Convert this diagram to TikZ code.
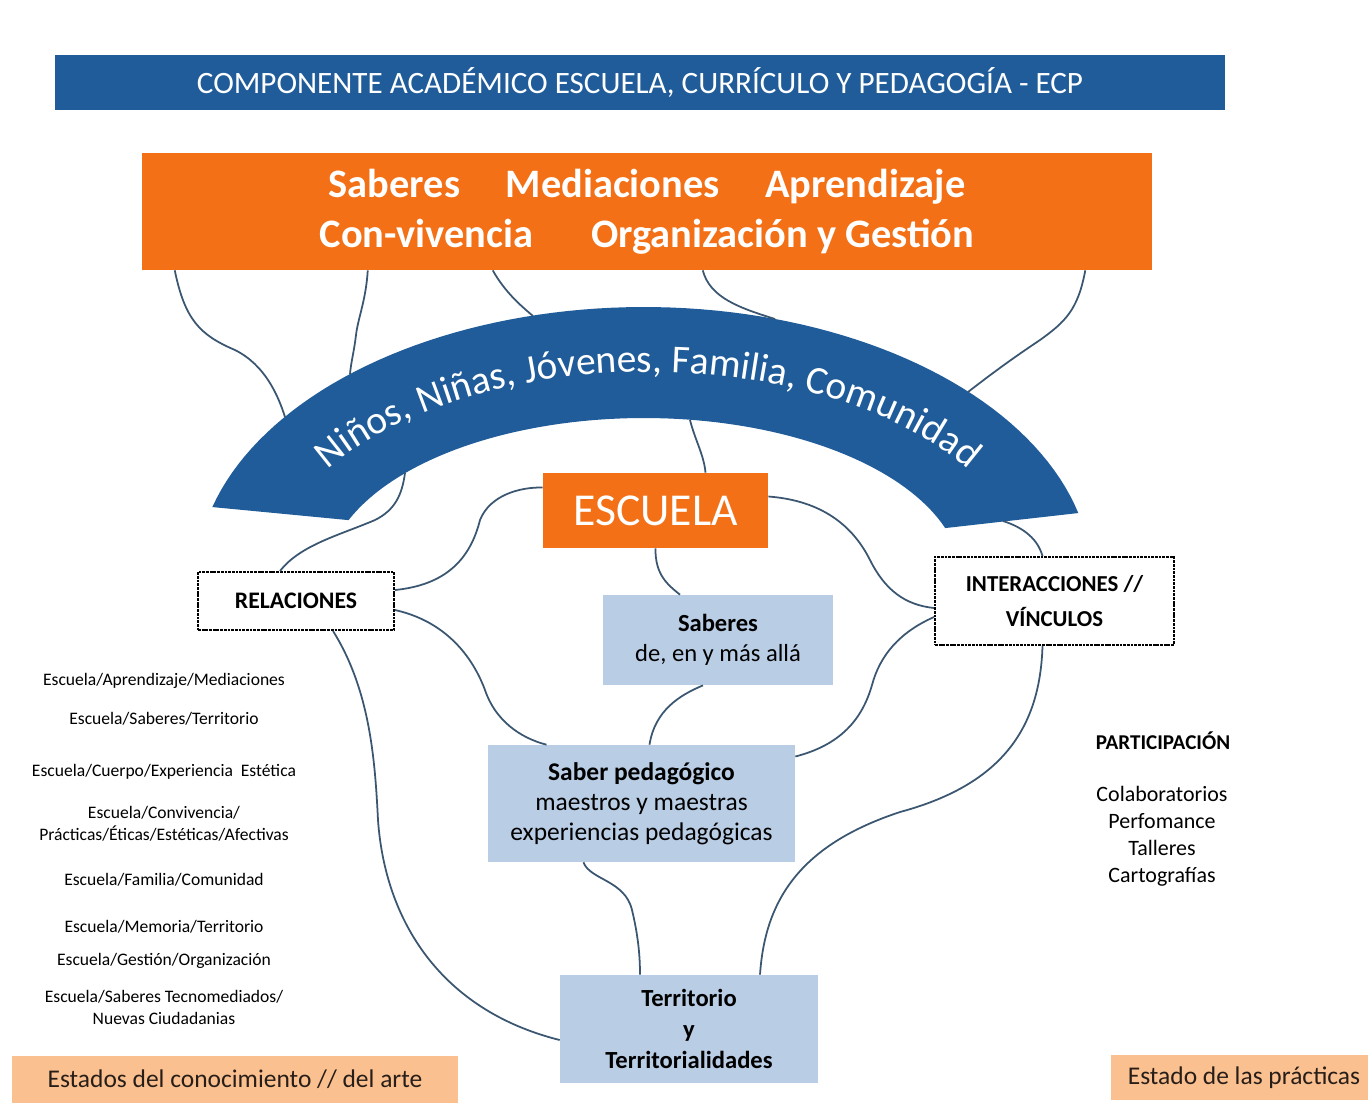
\documentclass[tikz,border=0pt]{standalone}
\usepackage{fontspec}
\setmainfont{Carlito}
\usetikzlibrary{calc,decorations.text}
\definecolor{azul}{RGB}{31,92,153}
\definecolor{naranja}{RGB}{243,112,22}
\definecolor{celeste}{RGB}{185,205,229}
\definecolor{durazno}{RGB}{250,192,143}
\definecolor{linea}{RGB}{58,86,112}
\definecolor{textoc}{RGB}{40,30,25}

\begin{document}
\begin{tikzpicture}[x=0.02cm,y=-0.02cm,
  caja/.style={fill=celeste,align=center,inner sep=0pt},
  marco/.style={draw=black,fill=white,line width=1.1pt,dash pattern=on 1.6pt off 0.5pt,align=center,inner sep=0pt},
  enlace/.style={draw=linea,line width=1pt},
  lista/.style={align=center,font=\fontsize{10}{12.5}\selectfont},
  estado/.style={fill=durazno,text=textoc,inner sep=0pt,font=\fontsize{14.5}{17}\selectfont}]
\useasboundingbox (0,0) rectangle (1368,1117);
\fill[white] (0,0) rectangle (1368,1117);

\node[fill=azul,text=white,minimum width=23.4cm,minimum height=1.1cm,font=\fontsize{17.7}{20}\selectfont] (ttl) at (640,82.5) {COMPONENTE ACADÉMICO ESCUELA, CURRÍCULO Y PEDAGOGÍA - ECP};
\node[fill=naranja,text=white,minimum width=20.2cm,minimum height=2.34cm,align=center,font=\bfseries\fontsize{23}{28.4}\selectfont] (ejes) at (647,211.5) {Saberes\hspace{26pt}Mediaciones\hspace{26pt}Aprendizaje\\Con-vivencia\hspace{33pt}Organización y Gestión};

\fill[azul] plot[domain=-164.5:-14.2,samples=80] ({644+448*cos(\x)},{580+273*sin(\x)}) -- plot[domain=18.7:158.3,samples=80] ({644+318*cos(\x)},{580-162*sin(\x)}) -- cycle;
\path[decorate,decoration={text along path,text align=center,text={|\color{white}\fontsize{22.5}{26}\selectfont|Niños, Niñas, Jóvenes, Familia, Comunidad}}] plot[smooth,domain=-162:-18,samples=40] ({648+378*cos(\x)},{580+208*sin(\x)});

\coordinate (bo1) at (285,417);
\coordinate (bo2) at (350,374);
\coordinate (bo3) at (533,316);
\coordinate (bo4) at (775,319);
\coordinate (bo5) at (968,392);
\coordinate (bi1) at (690,420);
\coordinate (bi2) at (405,473);
\coordinate (bcap) at (1003,521);

\node[fill=naranja,text=white,minimum width=4.5cm,minimum height=1.5cm,font=\fontsize{26}{30}\selectfont] (esc) at (655.5,510.5) {ESCUELA};
\node[marco,minimum width=3.92cm,minimum height=1.16cm,font=\bfseries\fontsize{13.5}{16}\selectfont] (rel) at (296,601) {RELACIONES};
\node[marco,minimum width=4.78cm,minimum height=1.76cm,font=\bfseries\fontsize{13}{20}\selectfont] (inter) at (1054.5,601) {INTERACCIONES //\\VÍNCULOS};
\node[caja,minimum width=4.6cm,minimum height=1.8cm,font=\fontsize{14}{17}\selectfont] (sab) at (718,640) {\textbf{Saberes}\\de, en y más allá};
\node[caja,minimum width=6.14cm,minimum height=2.34cm,font=\fontsize{14.5}{17}\selectfont] (ped) at (641.5,803.5) {\textbf{Saber pedagógico}\\maestros y maestras\\experiencias pedagógicas};
\node[caja,minimum width=5.16cm,minimum height=2.16cm,font=\bfseries\fontsize{14}{17.5}\selectfont] (terr) at (689,1029) {Territorio\\y\\Territorialidades};
\node[estado,minimum width=8.92cm,minimum height=0.94cm] (edo1) at (235,1079.5) {Estados del conocimiento // del arte};
\node[estado,minimum width=5.32cm,minimum height=0.9cm] (edo2) at (1244,1077.5) {Estado de las prácticas};

\node[lista] (l1) at (164,681) {Escuela/Aprendizaje/Mediaciones};
\node[lista] (l2) at (164,719) {Escuela/Saberes/Territorio};
\node[lista] (l3) at (164,772) {Escuela/Cuerpo/Experiencia\ \ Estética};
\node[lista] (l4) at (164,824) {Escuela/Convivencia/\\Prácticas/Éticas/Estéticas/Afectivas};
\node[lista] (l5) at (164,880) {Escuela/Familia/Comunidad};
\node[lista] (l6) at (164,927) {Escuela/Memoria/Territorio};
\node[lista] (l7) at (164,961) {Escuela/Gestión/Organización};
\node[lista] (l8) at (164,1007.5) {Escuela/Saberes Tecnomediados/\\Nuevas Ciudadanias};
\node[font=\bfseries\fontsize{12}{14}\selectfont] (part) at (1163,741) {PARTICIPACIÓN};
\node[align=center,font=\fontsize{12.5}{15.3}\selectfont] (acts) at (1162,836) {Colaboratorios\\Perfomance\\Talleres\\Cartografías};

\draw[enlace] ($(ejes.south west)+(33,0)$) .. controls (185,320) and (200,335) .. (235,350) .. controls (265,365) and (278,395) .. (bo1);
\draw[enlace] ($(ejes.south west)+(226,0)$) .. controls (366,300) and (358,318) .. (356,335) .. controls (354,352) and (351,362) .. (bo2);
\draw[enlace] ($(ejes.south west)+(351,0)$) .. controls (505,292) and (520,305) .. (bo3);
\draw[enlace] ($(ejes.south west)+(561,0)$) .. controls (710,298) and (740,308) .. (bo4);
\draw[enlace] ($(ejes.south east)+(-67,0)$) .. controls (1078,310) and (1065,322) .. (1040,340) .. controls (1010,360) and (990,375) .. (bo5);
\draw[enlace] (bi1) .. controls (695,440) and (704,455) .. ($(esc.north)+(50,0)$);
\draw[enlace] ($(esc.east)+(0,-14)$) .. controls (815,500) and (850,520) .. (870,560) .. controls (885,590) and (905,605) .. ($(inter.west)+(0,7)$);
\draw[enlace] (bcap) .. controls (1025,528) and (1038,540) .. ($(inter.north)+(-12,0)$);
\draw[enlace] ($(inter.west)+(0,16)$) .. controls (900,632) and (880,655) .. (872,685) .. controls (862,720) and (840,745) .. ($(ped.east)+(0,-47)$);
\draw[enlace] ($(inter.south)+(-12,0)$) .. controls (1040,730) and (1000,785) .. (900,812) .. controls (800,845) and (765,900) .. ($(terr.north)+(71,0)$);
\draw[enlace] ($(rel.east)+(0,9)$) .. controls (440,620) and (470,650) .. (485,690) .. controls (495,720) and (520,738) .. ($(ped.north)+(-95,0)$);
\draw[enlace] ($(rel.south)+(37,0)$) .. controls (370,690) and (375,760) .. (378,820) .. controls (385,920) and (440,1010) .. ($(terr.west)+(0,11)$);
\draw[enlace] (esc.south) .. controls (655,575) and (668,585) .. ($(sab.north)+(-38,0)$);
\draw[enlace] ($(sab.south)+(-15,0)$) .. controls (680,695) and (655,710) .. ($(ped.north)+(8,0)$);
\draw[enlace] ($(ped.south)+(-58,0)$) .. controls (590,880) and (625,880) .. (632,910) .. controls (638,935) and (640,955) .. ($(terr.north)+(-49,0)$);
\draw[enlace] ($(rel.east)+(0,-11)$) .. controls (445,585) and (470,560) .. (480,520) .. controls (490,495) and (520,487) .. ($(esc.west)+(0,-23)$);
\draw[enlace] ($(rel.north)+(-16,0)$) .. controls (300,545) and (340,535) .. (375,520) .. controls (395,510) and (402,495) .. (bi2);
\end{tikzpicture}
\end{document}
